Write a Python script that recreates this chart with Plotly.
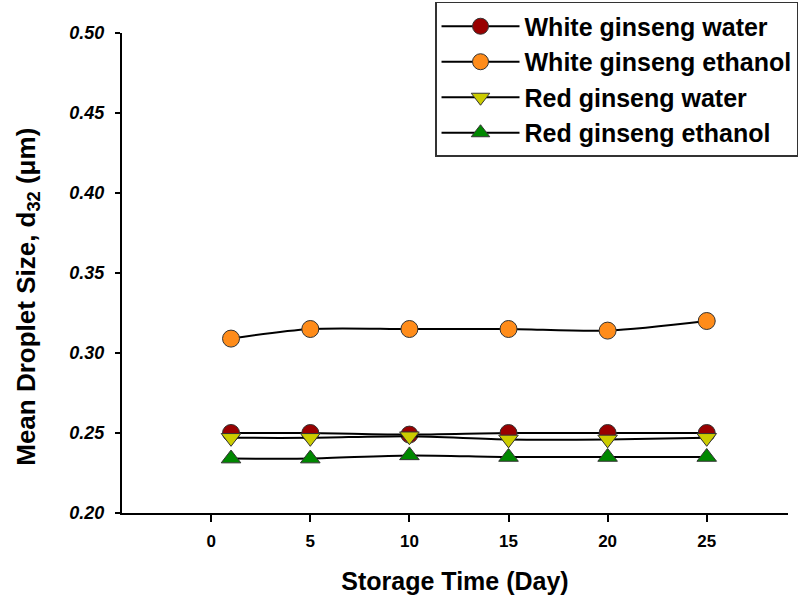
import plotly.graph_objects as go

days = [1, 5, 10, 15, 20, 25]
white_water = [0.250, 0.250, 0.249, 0.250, 0.250, 0.250]
white_ethanol = [0.309, 0.315, 0.315, 0.315, 0.314, 0.320]
red_water = [0.247, 0.247, 0.248, 0.246, 0.246, 0.247]
red_ethanol = [0.234, 0.234, 0.236, 0.235, 0.235, 0.235]

names = ["White ginseng water", "White ginseng ethanol", "Red ginseng water", "Red ginseng ethanol"]
series = [white_water, white_ethanol, red_water, red_ethanol]
colors = ["#990000", "#FF8C1A", "#CCCC00", "#008800"]
symbols = ["circle", "circle", "triangle-down", "triangle-up"]
sizes = [17, 17, 17, 17]

x_ticks = [0, 5, 10, 15, 20, 25]
y_ticks = [0.20, 0.25, 0.30, 0.35, 0.40, 0.45, 0.50]
y_title = "Mean Droplet Size, d<sub>32</sub> (μm)"
x_title = "Storage Time (Day)"

fig = go.Figure()
for i, (n, s) in enumerate(zip(names, series)):
    fig.add_trace(go.Scatter(
        x=days, y=s, name=n, mode="lines+markers",
        legendgroup=n,
        line=dict(color="black", width=2, shape="spline", smoothing=0.8),
        marker=dict(symbol=symbols[i], size=sizes[i], color=colors[i],
                    line=dict(color="#333333", width=1)),
    ))

fig.update_layout(
    width=810, height=598,
    margin=dict(l=122, r=22, t=33, b=85, autoexpand=False),
    plot_bgcolor="white", paper_bgcolor="white",
    font=dict(family="Arial, Liberation Sans, sans-serif", color="black"),
    legend=dict(
        x=0.47, y=1.0646, xanchor="left", yanchor="top",
        bordercolor="#333333", borderwidth=1.5, bgcolor="white",
        font=dict(size=25, family="Arial, Liberation Sans, sans-serif", weight="bold", color="black"),
        tracegroupgap=0, itemwidth=78,
    ),
    showlegend=True,
    annotations=[dict(
        text=y_title, xref="paper", yref="paper", x=-0.143, y=0.45,
        xanchor="center", yanchor="middle", textangle=-90, showarrow=False,
        font=dict(size=26, weight="bold", color="black"),
    )],
)

fig.update_xaxes(
    range=[-4.5, 29.1], tickvals=x_ticks, ticktext=[str(v) for v in x_ticks],
    showline=True, linecolor="black", linewidth=2, showgrid=False, zeroline=False,
    ticks="outside", ticklen=7, tickwidth=2, tickcolor="black", ticklabelstandoff=5,
    tickfont=dict(size=17, weight="bold"),
    title=dict(text=x_title, font=dict(size=25, weight="bold"), standoff=22),
)
fig.update_yaxes(
    range=[0.20, 0.50], tickvals=y_ticks, ticktext=[f"{v:.2f}" for v in y_ticks],
    showline=True, linecolor="black", linewidth=2, showgrid=False, zeroline=False,
    ticks="outside", ticklen=5, tickwidth=2, tickcolor="black", ticklabelstandoff=7,
    tickfont=dict(size=18, weight="bold", style="italic"),
)

fig.write_html("out.html")
